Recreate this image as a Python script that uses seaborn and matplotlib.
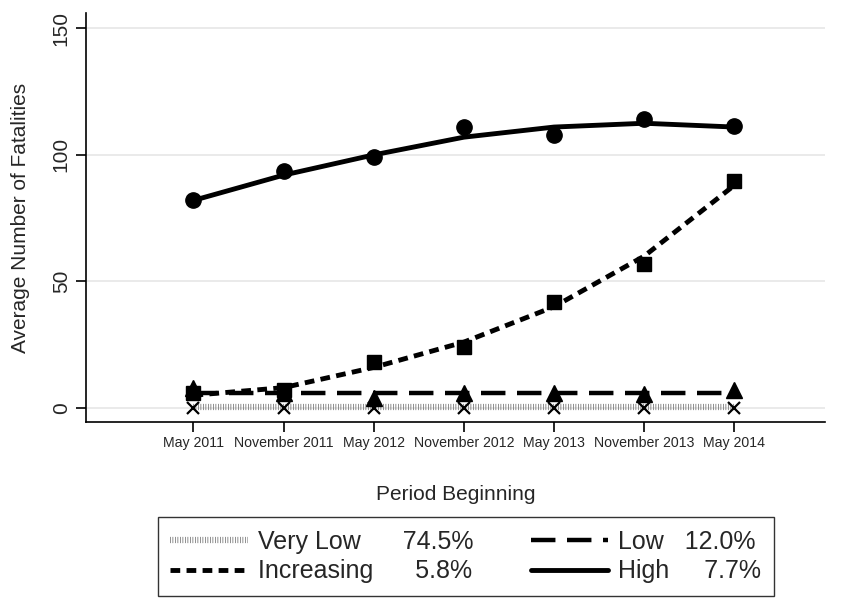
import matplotlib
matplotlib.use("Agg")
import matplotlib.pyplot as plt
from matplotlib.lines import Line2D
import seaborn as sns
import pandas as pd

periods = ["May 2011", "November 2011", "May 2012", "November 2012",
           "May 2013", "November 2013", "May 2014"]
period_idx = [1, 2, 3, 4, 5, 6, 7]

# observed averages (markers)
very_low_obs = [0, 0, 0, 0, 0, 0, 0]
low_obs = [8, 6, 4, 6, 6, 5.5, 7]
increasing_obs = [6, 7, 18, 24, 42, 57, 89.5]
high_obs = [82, 93.5, 99, 111, 108, 114, 111.5]

# fitted trajectories (lines)
very_low_fit = [0.5, 0.5, 0.5, 0.5, 0.5, 0.5, 0.5]
low_fit = [6, 6, 6, 6, 6, 6, 6]
increasing_fit = [5, 8, 16, 26, 40, 60, 88]
high_fit = [82, 92, 100, 107, 111, 112.5, 111]

groups = ["Very Low", "Increasing", "Low", "High"]
shares = ["74.5%", "5.8%", "12.0%", "7.7%"]

sns.set_theme(style="white")
plt.rcParams["font.family"] = ["Liberation Sans", "DejaVu Sans"]

fig = plt.figure(figsize=(8.44, 6), dpi=100)
ax = fig.add_axes([0.102, 0.297, 0.875, 0.681])

styles = {
    "Very Low": dict(color="#6e6e6e", lw=4.5, ls=(0, (0.12, 0.28))),
    "Low": dict(color="black", lw=3.2, ls=(0, (5.5, 2.6))),
    "Increasing": dict(color="black", lw=3.5, ls=(0, (2.0, 1.3))),
    "High": dict(color="black", lw=3.5, ls="-"),
}
markers = {"Very Low": ("x", 9), "Low": ("^", 11), "Increasing": ("s", 10), "High": ("o", 11)}

fits = {"Very Low": very_low_fit, "Low": low_fit, "Increasing": increasing_fit, "High": high_fit}
obs = {"Very Low": very_low_obs, "Low": low_obs, "Increasing": increasing_obs, "High": high_obs}

for g in ["Very Low", "Low", "Increasing", "High"]:
    df = pd.DataFrame({"x": period_idx, "fit": fits[g], "obs": obs[g]})
    st = styles[g]
    sns.lineplot(data=df, x="x", y="fit", ax=ax, color=st["color"], lw=st["lw"],
                 linestyle=st["ls"], zorder=3)
    m, s = markers[g]
    if m == "x":
        ax.plot(df["x"], df["obs"], ls="none", marker="x", ms=s, mew=1.6, color="black", zorder=4)
    else:
        ax.plot(df["x"], df["obs"], ls="none", marker=m, ms=s, color="black", zorder=4)

ax.set_xlim(1 - 1.19, 7 + 1.0)
ax.set_ylim(-5.5, 156)
ax.set_xticks(period_idx)
ax.set_xticklabels(periods, fontsize=10.2)
ax.set_yticks([0, 50, 100, 150])
ax.set_yticklabels(["0", "50", "100", "150"], fontsize=15, rotation=90, va="center")
ax.tick_params(axis="both", direction="out", length=7, width=1.2, color="black", left=True, bottom=True)
ax.tick_params(axis="y", pad=4)
ax.grid(axis="y", color="#e6e6e6", lw=1.2)
ax.set_axisbelow(True)
for sp in ["top", "right"]:
    ax.spines[sp].set_visible(False)
for sp in ["left", "bottom"]:
    ax.spines[sp].set_color("black")
    ax.spines[sp].set_linewidth(1.2)
ax.set_xlabel("Period Beginning", fontsize=15, labelpad=25)
ax.set_ylabel("Average Number of Fatalities", fontsize=15, labelpad=16)

labels = {
    "Very Low": "Very Low      74.5%",
    "Increasing": "Increasing      5.8%",
    "Low": "Low   12.0%",
    "High": "High     7.7%",
}
handles = []
for g in groups:
    st = styles[g]
    handles.append(Line2D([0], [0], color=st["color"], lw=st["lw"], ls=st["ls"]))
leg = fig.legend(handles, [labels[g] for g in groups], ncol=2,
                 loc="center", bbox_to_anchor=(0.552, 0.0725), fontsize=18,
                 frameon=True, fancybox=False, edgecolor="black",
                 handlelength=3.1, columnspacing=2.3, labelspacing=0.22,
                 borderpad=0.5, handletextpad=0.4)
leg.get_frame().set_linewidth(1.0)

fig.savefig("out.png", dpi=100)
